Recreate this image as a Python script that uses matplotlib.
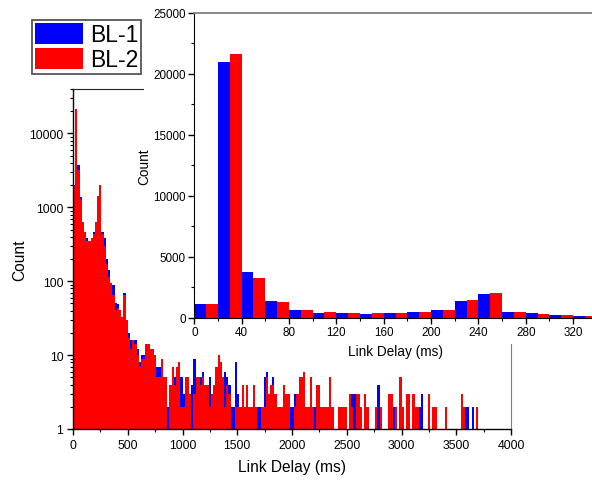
import numpy as np
import matplotlib
matplotlib.use("Agg")
import matplotlib.pyplot as plt
from matplotlib.patches import Rectangle
from matplotlib.ticker import FixedLocator, MultipleLocator, LogLocator, NullFormatter

plt.rcParams['font.family'] = ['Liberation Sans', 'DejaVu Sans']

# ---------------- data ----------------
series_names = ["BL-1", "BL-2"]
series_colors = ["#0000FF", "#FF0000"]

# main histogram: 20 ms bins from 0 to 4000 ms
main_bin_width = 20
main_bl1 = [2000, 21000, 3720, 1370, 630, 410, 380, 300, 380, 465,
            630, 1370, 1940, 465, 380, 200, 140, 95, 90, 50,
            49, 41, 33, 69, 25, 20, 16, 16, 16, 12,
            8, 10, 10, 9, 10, 12, 12, 8, 7, 7,
            6, 5, 4, 2, 3, 5, 5, 7, 4, 5,
            3, 4, 2, 2, 4, 9, 5, 3, 5, 6,
            3, 2, 5, 2, 3, 4, 6, 5, 5, 6,
            5, 4, 2, 2, 8, 3, 1, 2, 1, 2,
            1, 0, 2, 1, 2, 2, 0, 5, 6, 2,
            4, 5, 2, 0, 1, 0, 2, 1, 2, 2,
            2, 3, 2, 5, 2, 2, 2, 1, 2, 2,
            2, 3, 2, 2, 0, 2, 1, 0, 2, 0,
            1, 0, 2, 1, 2, 0, 3, 3, 3, 3,
            0, 2, 0, 0, 0, 0, 0, 1, 0, 4,
            0, 0, 0, 0, 0, 0, 2, 2, 0, 0,
            0, 0, 0, 0, 0, 0, 0, 0, 2, 3,
            0, 0, 0, 0, 0, 0, 0, 0, 0, 0,
            2, 0, 0, 0, 0, 0, 0, 2, 0, 2,
            2, 0, 2, 0, 0, 0, 0, 0, 0, 0,
            0, 0, 0, 0, 0, 0, 0, 0, 0, 0]
main_bl2 = [1950, 21700, 3230, 1290, 630, 465, 355, 355, 380, 440,
            630, 1420, 2000, 440, 300, 170, 115, 94, 65, 41,
            44, 41, 33, 66, 30, 17, 12, 16, 14, 10,
            7, 9, 9, 14, 14, 12, 12, 10, 5, 5,
            9, 5, 5, 0, 4, 7, 4, 7, 8, 2,
            2, 5, 5, 3, 1, 3, 5, 5, 4, 5,
            4, 4, 2, 3, 4, 7, 10, 8, 5, 2,
            4, 3, 0, 1, 2, 2, 2, 4, 2, 4,
            2, 2, 4, 2, 0, 1, 2, 2, 5, 3,
            4, 4, 3, 2, 2, 2, 4, 3, 3, 0,
            0, 2, 3, 5, 5, 6, 2, 2, 5, 2,
            0, 4, 4, 2, 2, 2, 2, 5, 2, 0,
            0, 2, 2, 2, 2, 0, 3, 2, 0, 3,
            3, 2, 0, 3, 2, 0, 0, 0, 2, 0,
            2, 0, 0, 0, 3, 3, 0, 2, 0, 5,
            2, 0, 3, 3, 0, 3, 2, 2, 0, 0,
            0, 0, 3, 0, 2, 2, 0, 0, 0, 0,
            2, 0, 0, 0, 0, 0, 0, 3, 2, 0,
            0, 0, 0, 0, 2, 0, 0, 0, 0, 0,
            0, 0, 0, 0, 0, 0, 0, 0, 0, 0]

# inset histogram: 20 ms bins from 0 to 340 ms
inset_bin_width = 20
inset_bl1 = [1094, 20980, 3720, 1370, 630, 410, 380, 300, 380, 465,
             630, 1370, 1940, 465, 380, 220, 140]
inset_bl2 = [1150, 21660, 3230, 1290, 630, 465, 355, 355, 380, 440,
             630, 1420, 2000, 440, 300, 220, 110]

main_xticks = [0, 500, 1000, 1500, 2000, 2500, 3000, 3500, 4000]
main_yticks = [1, 10, 100, 1000, 10000]
main_ytick_labels = ["1", "10", "100", "1000", "10000"]
inset_xticks = [0, 40, 80, 120, 160, 200, 240, 280, 320]
inset_yticks = [0, 5000, 10000, 15000, 20000, 25000]

# ---------------- figure ----------------
W, H = 592, 481
fig = plt.figure(figsize=(W / 100, H / 100), dpi=100)

def fx(px):
    return px / W

def fy(py):
    return 1 - py / H

# main axes (pixel box: x 73..511, y 90..430)
ax = fig.add_axes([fx(73), fy(430), fx(511) - fx(73), fy(90) - fy(430)])
ax.set_zorder(0)
edges = np.arange(len(main_bl1)) * main_bin_width
ax.bar(edges, main_bl1, width=main_bin_width, align='edge', color=series_colors[0],
       linewidth=0, label=series_names[0])
ax.bar(edges, main_bl2, width=main_bin_width, align='edge', color=series_colors[1],
       linewidth=0, label=series_names[1])
ax.set_yscale('log')
ax.set_ylim(1, 40000)
ax.set_xlim(0, 4000)
ax.yaxis.set_major_locator(FixedLocator(main_yticks))
ax.set_yticklabels(main_ytick_labels)
ax.yaxis.set_minor_locator(LogLocator(base=10, subs=np.arange(2, 10)))
ax.yaxis.set_minor_formatter(NullFormatter())
ax.xaxis.set_major_locator(FixedLocator(main_xticks))
ax.xaxis.set_minor_locator(MultipleLocator(250))
ax.tick_params(which='major', direction='out', length=4.5, width=1, labelsize=8.8, pad=2.5)
ax.tick_params(which='minor', direction='out', length=2.5, width=0.8)
ax.set_xlabel("Link Delay (ms)", fontsize=11.2)
ax.set_ylabel("Count", fontsize=11.2)
ax.yaxis.set_label_coords((27 - 73) / (511 - 73), 0.5)
ax.xaxis.set_label_coords(0.5, -(460 - 430) / (430 - 90))
for s in ['left', 'bottom']:
    ax.spines[s].set_color('black')
    ax.spines[s].set_linewidth(1.0)
ax.spines['top'].set_color('#222222')
ax.spines['right'].set_color('#808080')

# white panel behind the inset
rect = Rectangle((fx(144), fy(345)), 1 - fx(144), 1 - fy(345), transform=fig.transFigure,
                 facecolor='white', edgecolor='none', zorder=1)
fig.add_artist(rect)

# inset axes
ia = fig.add_axes([fx(194.3), fy(318.7), 1 - fx(194.3), fy(14) - fy(318.7)])
ia.set_zorder(2)
iedges = np.arange(len(inset_bl1)) * inset_bin_width
ia.bar(iedges, inset_bl1, width=inset_bin_width / 2, align='edge', color=series_colors[0], linewidth=0)
ia.bar(iedges + inset_bin_width / 2, inset_bl2, width=inset_bin_width / 2, align='edge',
       color=series_colors[1], linewidth=0)
ia.set_xlim(0, 336)
ia.set_ylim(0, 25000)
ia.xaxis.set_major_locator(FixedLocator(inset_xticks))
ia.xaxis.set_minor_locator(MultipleLocator(20))
ia.yaxis.set_major_locator(FixedLocator(inset_yticks))
ia.yaxis.set_minor_locator(MultipleLocator(2500))
ia.tick_params(which='major', direction='out', length=4, width=1, labelsize=8.4, pad=2)
ia.tick_params(which='minor', direction='out', length=2.5, width=0.8)
ia.set_xlabel("Link Delay (ms)", fontsize=9.8)
ia.set_ylabel("Count", fontsize=9.8)
ia.xaxis.set_label_coords((395 - 194.3) / (592 - 194.3), -(345 - 318.7) / (318.7 - 14))
ia.yaxis.set_label_coords(-(194.3 - 151) / (592 - 194.3), 0.5)
ia.spines['top'].set_color('#808080')
ia.spines['top'].set_linewidth(1.3)
ia.spines['right'].set_visible(False)

# legend
handles, labels = ax.get_legend_handles_labels()
leg = fig.legend(handles, labels, loc='upper left', bbox_to_anchor=(fx(32), fy(21)),
                 bbox_transform=fig.transFigure, fontsize=16.5, frameon=True, fancybox=False,
                 edgecolor='#555555', framealpha=1, borderpad=0.12, labelspacing=0.08,
                 handlelength=2.1, handleheight=1.05, handletextpad=0.3, borderaxespad=0)
leg.get_frame().set_linewidth(1.3)
leg.set_zorder(5)

fig.savefig("out.png", dpi=100)
